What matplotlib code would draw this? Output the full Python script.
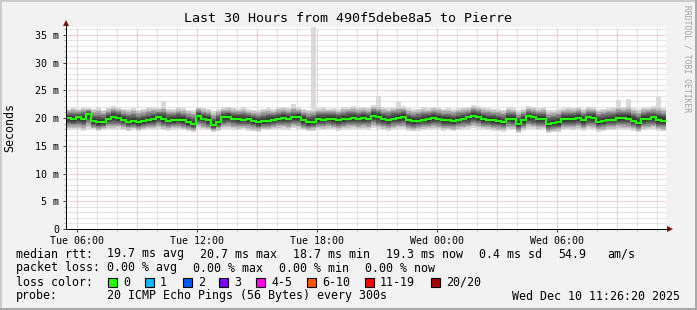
import matplotlib.pyplot as plt
import numpy as np
from matplotlib.patches import Polygon, Rectangle
from matplotlib.lines import Line2D

# figure size in pixels, helpers to go from pixel to figure fraction
W, H = 697, 310


def fx(px):
    return px / W


def fy(py):
    return 1 - py / H


# time axis: hours since Tue 00:00, 30 hours ending Wed 11:26:20
start_h = 5 + 26 / 60 + 20 / 3600
step_h = 0.25

# median rtt per 15 minute step (ms)
median_ms = [
    20.0, 19.8, 20.1, 19.9, 20.7, 19.4, 19.2, 19.3, 19.9, 20.2,
    20.0, 19.7, 19.3, 19.4, 19.2, 19.4, 19.6, 19.8, 20.1, 19.8,
    19.5, 19.6, 19.7, 19.6, 19.2, 18.9, 20.3, 19.9, 19.6, 18.7,
    19.3, 20.1, 20.2, 19.9, 19.8, 19.7, 19.8, 19.5, 19.2, 19.4,
    19.5, 19.7, 19.9, 20.0, 19.9, 20.1, 20.2, 19.6, 19.2, 19.3,
    19.8, 19.7, 19.9, 19.8, 19.6, 19.8, 19.9, 20.0, 19.9, 20.0,
    19.9, 20.4, 20.1, 19.8, 19.7, 19.9, 20.0, 20.2, 19.6, 19.4,
    19.5, 19.7, 19.8, 20.0, 19.9, 19.7, 19.6, 19.5, 19.7, 19.9,
    20.1, 20.4, 20.2, 19.8, 19.7, 19.6, 19.5, 19.3, 19.9, 19.8,
    18.9, 19.6, 20.3, 20.1, 19.8, 19.8, 18.9, 19.1, 19.2, 19.8,
    19.8, 19.9, 20.0, 19.6, 20.1, 20.0, 19.3, 19.5, 19.7, 19.7,
    20.0, 20.0, 19.9, 19.5, 19.1, 19.8, 19.9, 20.1, 19.6, 19.5,
]

# upper edge of the smoke (ms)
smoke_hi = [
    21.7, 21.9, 21.6, 22.0, 21.8, 21.7, 21.9, 21.5, 21.8, 22.1,
    21.9, 21.7, 21.6, 21.8, 21.5, 21.7, 21.9, 22.0, 21.8, 22.2,
    21.7, 21.6, 21.9, 21.8, 21.5, 21.4, 22.0, 21.8, 21.7, 21.3,
    21.6, 21.9, 22.0, 21.8, 21.7, 21.9, 21.6, 21.5, 21.4, 21.7,
    21.8, 21.6, 21.9, 22.0, 21.8, 22.1, 21.9, 21.7, 21.5, 21.6,
    21.8, 21.9, 21.7, 21.8, 21.6, 21.9, 22.0, 22.1, 21.9, 22.0,
    21.8, 22.3, 22.2, 21.9, 21.8, 22.0, 22.2, 22.1, 21.8, 21.6,
    21.7, 21.9, 21.8, 22.0, 21.9, 21.7, 21.8, 21.6, 21.8, 21.9,
    22.0, 22.3, 22.1, 21.9, 21.8, 21.7, 21.6, 21.5, 21.9, 21.8,
    21.4, 21.7, 22.1, 22.0, 21.8, 21.9, 21.4, 21.5, 21.6, 21.8,
    21.9, 21.8, 22.0, 21.7, 22.0, 21.9, 21.6, 21.7, 21.8, 21.9,
    22.2, 22.0, 22.3, 21.8, 21.6, 21.9, 22.0, 22.1, 22.2, 21.8,
]

# lower edge of the smoke (ms)
smoke_lo = [
    17.9, 18.0, 17.8, 17.7, 18.1, 17.9, 17.6, 17.8, 18.0, 17.9,
    18.1, 17.8, 17.7, 17.9, 17.6, 17.8, 18.0, 17.9, 18.1, 17.8,
    17.7, 17.9, 18.0, 17.8, 17.6, 17.5, 18.1, 17.9, 17.8, 17.5,
    17.7, 18.0, 18.1, 17.9, 17.8, 18.0, 17.7, 17.6, 17.5, 17.8,
    17.8, 17.9, 18.0, 18.1, 17.9, 18.2, 18.0, 17.8, 17.6, 17.7,
    17.9, 17.8, 18.0, 17.9, 17.7, 17.9, 18.0, 18.1, 17.9, 18.0,
    17.9, 18.2, 18.0, 17.8, 17.7, 17.9, 18.1, 18.0, 17.7, 17.6,
    17.7, 17.8, 17.9, 18.0, 17.9, 17.7, 17.8, 17.6, 17.8, 17.9,
    18.0, 18.2, 18.1, 17.9, 17.8, 17.7, 17.6, 17.5, 17.9, 17.8,
    17.3, 17.7, 18.1, 18.0, 17.8, 17.9, 17.3, 17.4, 17.5, 17.8,
    17.9, 17.8, 18.0, 17.7, 18.0, 17.9, 17.5, 17.6, 17.8, 17.8,
    18.0, 17.9, 17.9, 17.7, 17.4, 17.8, 17.9, 18.0, 17.7, 17.6,
]

# single slow pings sticking out of the smoke
spike_steps = [19, 45, 49, 62, 66, 110, 112, 118]
spike_tops = [23.0, 22.6, 36.5, 24.0, 22.8, 23.3, 23.5, 23.7]

tick_hours = [6, 12, 18, 24, 30]
tick_labels = ['Tue 06:00', 'Tue 12:00', 'Tue 18:00', 'Wed 00:00', 'Wed 06:00']
y_ticks = [0, 5, 10, 15, 20, 25, 30, 35]
y_labels = ['0', '5 m', '10 m', '15 m', '20 m', '25 m', '30 m', '35 m']

loss_labels = ['0', '1', '2', '3', '4-5', '6-10', '11-19', '20/20']
loss_colors = ['#26ff00', '#00b8ff', '#0059ff', '#7e00ff',
               '#ff00ea', '#ff5500', '#ff0000', '#a10000']

mono = 'DejaVu Sans Mono'

fig = plt.figure(figsize=(W / 100, H / 100), dpi=100, facecolor='#f2f2f2')

# 3d frame like rrdtool
fig.add_artist(Rectangle((0, fy(2)), 1, 2 / H, transform=fig.transFigure, color='#cbcbcb', lw=0))
fig.add_artist(Rectangle((0, 0), 2 / W, 1, transform=fig.transFigure, color='#cbcbcb', lw=0))
fig.add_artist(Rectangle((0, 0), 1, 2 / H, transform=fig.transFigure, color='#a8a8a8', lw=0))
fig.add_artist(Rectangle((fx(695), 0), 2 / W, 1, transform=fig.transFigure, color='#a8a8a8', lw=0))

ax = fig.add_axes([fx(66), fy(229), 600 / W, 202 / H])
ax.set_facecolor('white')
x0, x1 = start_h, start_h + 30
ax.set_xlim(x0, x1)
ax.set_ylim(0, 36.4)

# grid: gray every hour / ms, red every 3 hours / 5 ms
dots = (0, (1, 1))
for h in range(6, 36):
    c = '#e9a5a5' if h % 3 == 0 else '#cccccc'
    ax.axvline(h, color=c, lw=0.72, ls=dots, zorder=1)
for v in range(1, 37):
    c = '#e9a5a5' if v % 5 == 0 else '#cccccc'
    ax.axhline(v, color=c, lw=0.72, ls=dots, zorder=1)

# smoke
med = np.array(median_ms)
lo = np.array(smoke_lo)
hi = np.array(smoke_hi)
peak = hi.copy()
peak[spike_steps] = spike_tops
edges = start_h + step_h * np.arange(len(med) + 1)


def ext(a):
    return np.append(a, a[-1])


fracs = [1.0, 0.86, 0.74, 0.63, 0.53, 0.44, 0.35, 0.26, 0.17, 0.08]
greys = [0.85, 0.76, 0.66, 0.57, 0.48, 0.40, 0.32, 0.25, 0.18, 0.12]
for k, (f, g) in enumerate(zip(fracs, greys)):
    top = peak if k == 0 else med + (hi - med) * f
    bot = med - (med - lo) * f
    ax.fill_between(edges, ext(bot), ext(top), step='post',
                    color=(g, g, g), lw=0, zorder=2)

ax.step(edges, ext(med), where='post', color='#22ff00', lw=1.6, zorder=3)

# axes and ticks
for s in ['top', 'right']:
    ax.spines[s].set_visible(False)
for s in ['left', 'bottom']:
    ax.spines[s].set_color('black')
    ax.spines[s].set_linewidth(0.72)

ax.set_xticks(tick_hours, tick_labels)
ax.set_xticks(range(6, 36), minor=True)
ax.set_yticks(y_ticks, y_labels)
ax.set_yticks(range(0, 37), minor=True)
ax.tick_params(which='major', length=2.2, width=0.72, color='#444444',
               labelsize=7.2, pad=2.5)
ax.tick_params(which='minor', length=1.5, width=0.72, color='#aaaaaa')
for lab in ax.get_xticklabels() + ax.get_yticklabels():
    lab.set_family(mono)

# axis extensions and arrows
fig.add_artist(Line2D([fx(66), fx(66)], [fy(229), fy(24)], transform=fig.transFigure,
                      color='black', lw=0.72))
fig.add_artist(Line2D([fx(66), fx(669)], [fy(229), fy(229)], transform=fig.transFigure,
                      color='black', lw=0.72))
fig.add_artist(Polygon([(fx(66), fy(20)), (fx(63), fy(26)), (fx(69), fy(26))],
                       closed=True, transform=fig.transFigure, color='#8b1010', lw=0))
fig.add_artist(Polygon([(fx(673), fy(229)), (fx(667), fy(226)), (fx(667), fy(232))],
                       closed=True, transform=fig.transFigure, color='#8b1010', lw=0))

# title, axis label, watermark
fig.text(fx(348), fy(19), 'Last 30 Hours from 490f5debe8a5 to Pierre',
         family=mono, size=9.6, ha='center', va='center')
fig.text(fx(10), fy(127), 'Seconds', family=mono, size=8.4,
         rotation=90, ha='center', va='center')
fig.text(fx(687), fy(5), 'RRDTOOL / TOBI OETIKER', family=mono, size=5.8,
         color='#a0a0a0', rotation=270, ha='center', va='top')

# legend block
row1 = [(16, 'median rtt:'), (107, '19.7 ms avg'), (200, '20.7 ms max'),
        (293, '18.7 ms min'), (386, '19.3 ms now'), (479, '0.4 ms sd'),
        (558, '54.9'), (607, 'am/s')]
row2 = [(16, 'packet loss:'), (107, '0.00 % avg'), (193, '0.00 % max'),
        (279, '0.00 % min'), (365, '0.00 % now')]
for x, s in row1:
    fig.text(fx(x), fy(254), s, family=mono, size=8.4, va='center')
for x, s in row2:
    fig.text(fx(x), fy(268), s, family=mono, size=8.4, va='center')

fig.text(fx(16), fy(282), 'loss color:', family=mono, size=8.4, va='center')
box_x = [108, 145, 183, 219, 256, 307, 365, 431]
for bx, lab, col in zip(box_x, loss_labels, loss_colors):
    fig.add_artist(Rectangle((fx(bx), fy(286.5)), 9 / W, 9 / H, transform=fig.transFigure,
                             facecolor=col, edgecolor='black', lw=0.8))
    fig.text(fx(bx + 15), fy(282), lab, family=mono, size=8.4, va='center')

fig.text(fx(16), fy(296), 'probe:', family=mono, size=8.4, va='center')
fig.text(fx(107), fy(296), '20 ICMP Echo Pings (56 Bytes) every 300s',
         family=mono, size=8.4, va='center')
fig.text(fx(680), fy(296), 'Wed Dec 10 11:26:20 2025', family=mono, size=8.4,
         ha='right', va='center')

fig.savefig('out.png', dpi=100, facecolor=fig.get_facecolor())
